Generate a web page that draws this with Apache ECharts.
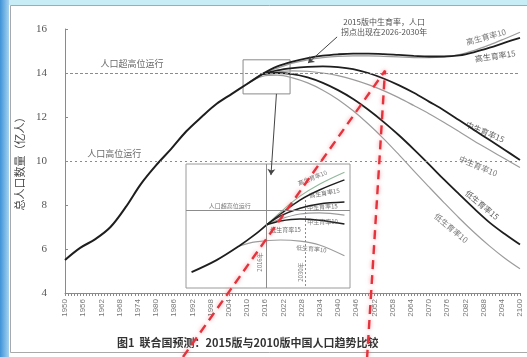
<!DOCTYPE html>
<html><head><meta charset="utf-8">
<script src="https://cdn.jsdelivr.net/npm/echarts@6/dist/echarts.min.js"></script>
<style>html,body{margin:0;padding:0;background:#fff}#c{width:527px;height:357px}</style>
</head><body><div id="c"></div>
<script>
// Historical population (100 million people)
const histYears = [1950,1955,1960,1965,1970,1975,1980,1985,1990,1995,2000,2005,2010,2015];
const histPop   = [5.5,6.05,6.45,7.0,7.9,8.95,9.8,10.55,11.35,12.0,12.6,13.05,13.5,13.95];

// UN WPP 2015 projections
const years15 = [2015,2020,2025,2030,2035,2040,2045,2050,2055,2060,2065,2070,2075,2080,2085,2090,2095,2100];
const high15  = [13.95,14.3,14.52,14.68,14.79,14.85,14.88,14.88,14.86,14.82,14.78,14.75,14.75,14.8,14.95,15.15,15.38,15.6];
const mid15   = [13.95,14.12,14.22,14.28,14.3,14.27,14.18,14.0,13.75,13.45,13.1,12.7,12.3,11.85,11.4,10.95,10.5,10.05];
const low15   = [13.95,14.0,13.95,13.8,13.55,13.22,12.82,12.33,11.78,11.18,10.53,9.85,9.15,8.48,7.82,7.2,6.68,6.2];

// UN WPP 2010 projections
const years10 = [2010,2015,2020,2025,2030,2035,2040,2045,2050,2055,2060,2065,2070,2075,2080,2085,2090,2095,2100];
const high10  = [13.5,13.95,14.22,14.45,14.6,14.7,14.76,14.78,14.78,14.76,14.73,14.7,14.7,14.74,14.84,15.03,15.28,15.56,15.85];
const mid10   = [13.5,13.92,14.05,14.1,14.08,14.0,13.88,13.7,13.47,13.2,12.88,12.52,12.15,11.75,11.33,10.9,10.5,10.1,9.7];
const low10   = [13.5,13.85,13.9,13.78,13.55,13.22,12.8,12.28,11.68,11.02,10.3,9.55,8.82,8.1,7.4,6.74,6.13,5.58,5.1];

// Magnified detail around the turning point
const zoomTrunkYears = [1989,1998,2006,2012,2016];
const zoomTrunk      = [12.41,12.72,13.08,13.39,13.63];
const zoomYears      = [2016,2021,2028,2035,2044];
const zoomHigh10     = [13.63,13.96,14.37,14.68,14.99];
const zoomHigh15     = [13.63,13.91,14.27,14.53,14.79];
const zoomMid15      = [13.63,13.86,14.06,14.17,14.22];
const zoomMid10      = [13.63,13.78,13.91,13.94,13.88];
const zoomLow15      = [13.63,13.73,13.78,13.75,13.65];
const zoomLow10Years = [2006,2012,2021,2028,2035,2044];
const zoomLow10      = [13.08,13.19,13.24,13.21,13.11,12.83];

const pair = (xs, ys) => xs.map((x, i) => [x, ys[i]]);
const CJK = '"Noto Sans CJK SC", sans-serif';
const BLACK = '#1e1e1e', GRAY = '#9c9c9c';

function curve(name, xs, ys, color, width, gridIdx) {
  return {
    name, type: 'line', xAxisIndex: gridIdx, yAxisIndex: gridIdx,
    data: pair(xs, ys), smooth: 0.35, symbol: 'none',
    lineStyle: { color, width }, z: color === BLACK ? 4 : 3
  };
}

function note(x, y, text, rotate, size, color) {
  return { value: [x, y], name: text,
    label: { rotate: rotate || 0, fontSize: size, color: color } };
}

const chart = echarts.init(document.getElementById('c'), null, { renderer: 'canvas' });

chart.setOption({
  animation: false,
  backgroundColor: '#fff',
  title: {
    text: '图1  联合国预测：2015版与2010版中国人口趋势比较',
    left: 112, top: 332,
    textStyle: { fontFamily: CJK, fontSize: 11, fontWeight: 'bold', color: '#333' }
  },
  graphic: [
    { type: 'rect', z: -10, shape: { x: 0, y: 0, width: 9, height: 357 },
      style: { fill: new echarts.graphic.LinearGradient(0, 0, 1, 0,
        [{ offset: 0, color: '#3f92d6' }, { offset: 1, color: '#a6d4f0' }]) } },
    { type: 'rect', z: -10, shape: { x: 9, y: 0, width: 518, height: 5 },
      style: { fill: '#c9edf7' } },
    { type: 'rect', z: -9, shape: { x: 10.5, y: 5.5, width: 520, height: 347 },
      style: { fill: 'none', stroke: '#a9a9a9', lineWidth: 1 } }
  ],
  grid: [
    { left: 65, right: 7, top: 29, bottom: 64 },
    { left: 186, top: 164, width: 164, height: 124, show: true,
      backgroundColor: '#fff', borderColor: '#9a9a9a', borderWidth: 1 }
  ],
  xAxis: [
    { type: 'value', gridIndex: 0, min: 1950, max: 2100, interval: 6,
      axisLine: { show: true, lineStyle: { color: '#8a8a8a', width: 1 } },
      axisTick: { show: true, length: 3, lineStyle: { color: '#8a8a8a' } },
      minorTick: { show: true, splitNumber: 6, length: 3, lineStyle: { color: '#8a8a8a' } },
      splitLine: { show: false },
      axisLabel: { rotate: 90, fontSize: 8, color: '#777', margin: 6,
        formatter: v => String(v),
        fontFamily: '"Liberation Sans", sans-serif' } },
    { type: 'value', gridIndex: 1, min: 1987, max: 2046, show: false }
  ],
  yAxis: [
    { type: 'value', gridIndex: 0, min: 4, max: 16, interval: 2,
      name: '总人口数量（亿人）', nameLocation: 'middle', nameGap: 37, nameRotate: 90,
      nameTextStyle: { fontFamily: CJK, fontSize: 11, color: '#444' },
      axisLine: { show: true, lineStyle: { color: '#8a8a8a', width: 1 } },
      axisTick: { show: true, inside: true, length: 3, lineStyle: { color: '#8a8a8a' } },
      splitLine: { show: false },
      axisLabel: { fontSize: 11, color: '#555', margin: 18,
        fontFamily: '"Liberation Serif", serif' } },
    { type: 'value', gridIndex: 1, min: 12, max: 15.2, show: false }
  ],
  series: [
    Object.assign(curve('历史', histYears, histPop, BLACK, 2, 0), {
      clip: false,
      markLine: {
        silent: true, symbol: ['none', 'none'], label: { show: false },
        lineStyle: { color: '#8c8c8c', width: 1, type: [3, 2] },
        data: [
          { yAxis: 14 },
          { yAxis: 10, lineStyle: { type: [2, 3], color: '#8c8c8c' } },
          [{ coord: [2016, 16.3] }, { coord: [2016, 9.9], lineStyle: { type: [2, 2], color: '#9a9a9a' } }],
          [{ coord: [2019.7, 13.05] },
           { coord: [2017.9, 9.36], symbol: 'arrow', symbolSize: 6,
             lineStyle: { type: 'solid', color: '#444' } }],
          [{ coord: [2039.7, 15.64] },
           { coord: [2030.1, 14.45], symbol: 'arrow', symbolSize: 6,
             lineStyle: { type: 'solid', color: '#444' } }]
        ]
      },
      markArea: {
        silent: true,
        itemStyle: { color: 'rgba(0,0,0,0)', borderColor: '#8a8a8a', borderWidth: 1 },
        data: [[{ coord: [2008.7, 14.6] }, { coord: [2024.2, 13.05] }]]
      }
    }),
    curve('高生育率10', years10, high10, GRAY, 1.2, 0),
    curve('中生育率10', years10, mid10, GRAY, 1.2, 0),
    curve('低生育率10', years10, low10, GRAY, 1.2, 0),
    curve('高生育率15', years15, high15, BLACK, 1.8, 0),
    curve('中生育率15', years15, mid15, BLACK, 1.8, 0),
    curve('低生育率15', years15, low15, BLACK, 1.8, 0),
    {
      name: '标记', type: 'line', xAxisIndex: 0, yAxisIndex: 0, clip: false, z: 20,
      symbol: 'none', silent: true,
      data: [[1988.9, 1.09], [2055.5, 14.1], [2049.6, 1.09]],
      lineStyle: { color: '#e3333d', width: 2.4, type: [9, 6],
        shadowColor: 'rgba(235,90,100,0.6)', shadowBlur: 4 }
    },
    {
      name: '注释', type: 'scatter', xAxisIndex: 0, yAxisIndex: 0, clip: false, z: 15,
      symbolSize: 1, itemStyle: { color: 'rgba(0,0,0,0)' }, silent: true,
      label: { show: true, position: 'inside', formatter: p => p.name,
        fontFamily: CJK, lineHeight: 10 },
      data: [
        note(2088.8, 15.64, '高生育率10', 15, 8, '#555'),
        note(2091.8, 14.77, '高生育率15', 8, 8, '#333'),
        note(2088.5, 11.32, '中生育率15', -23, 8, '#333'),
        note(2086.2, 9.77, '中生育率10', -23, 8, '#555'),
        note(2087.5, 8.0, '低生育率15', -40, 8, '#333'),
        note(2077.3, 6.95, '低生育率10', -40, 8, '#555'),
        note(1972.1, 14.41, '人口超高位运行', 0, 9, '#444'),
        note(1966.2, 10.36, '人口高位运行', 0, 9, '#444'),
        note(2055.2, 16.09, '2015版中生育率，人口\n拐点出现在2026-2030年', 0, 8, '#222')
      ]
    },
    Object.assign(curve('细节', zoomTrunkYears, zoomTrunk, BLACK, 1.8, 1), {
      markLine: {
        silent: true, symbol: ['none', 'none'], label: { show: false },
        lineStyle: { color: '#8c8c8c', width: 1, type: 'solid' },
        data: [
          { yAxis: 14 },
          { xAxis: 2016 },
          [{ coord: [2030, 14.27] }, { coord: [2030, 12], lineStyle: { type: [2, 2] } }]
        ]
      }
    }),
    curve('细节高10', zoomYears, zoomHigh10, '#8fb89a', 1.1, 1),
    curve('细节中10', zoomYears, zoomMid10, GRAY, 1.1, 1),
    curve('细节低10', zoomLow10Years, zoomLow10, GRAY, 1.1, 1),
    curve('细节高15', zoomYears, zoomHigh15, BLACK, 1.5, 1),
    curve('细节中15', zoomYears, zoomMid15, BLACK, 1.5, 1),
    curve('细节低15', zoomYears, zoomLow15, BLACK, 1.5, 1),
    {
      name: '细节注释', type: 'scatter', xAxisIndex: 1, yAxisIndex: 1, clip: false, z: 15,
      symbolSize: 1, itemStyle: { color: 'rgba(0,0,0,0)' }, silent: true,
      label: { show: true, position: 'inside', formatter: p => p.name, fontFamily: CJK },
      data: [
        note(2002.7, 14.12, '人口超高位运行', 0, 6, '#555'),
        note(2032.5, 14.84, '高生育率10', 22, 6, '#555'),
        note(2036.8, 14.45, '高生育率15', 10, 6, '#444'),
        note(2036.1, 14.09, '中生育率15', 4, 6, '#444'),
        note(2036.1, 13.70, '中生育率10', 0, 6, '#555'),
        note(2022.8, 13.50, '低生育率15', 0, 6, '#444'),
        note(2032.1, 13.01, '低生育率10', -5, 6, '#555'),
        note(2013.6, 12.67, '2016年', 90, 6, '#555'),
        note(2028.4, 12.41, '2030年', 90, 6, '#555')
      ]
    }
  ]
});
</script></body></html>
